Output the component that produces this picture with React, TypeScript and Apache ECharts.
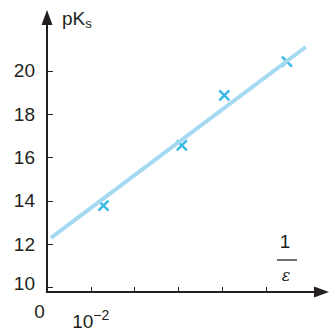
import React, { useEffect, useRef } from "react";
import * as echarts from "echarts";

const yTicks = [10, 12, 14, 16, 18, 20];
const xTicks = [0.01, 0.02, 0.03, 0.04, 0.05];
const xLabelTicks = [0.01];
const pointsX = [0.0129, 0.0308, 0.0405, 0.0548];
const pointsY = [13.78, 16.56, 18.87, 20.43];
const fitX = [0.0009, 0.0591];
const fitY = [12.3, 21.1];

const FONT = "Liberation Sans, Arial, sans-serif";
const INK = "#231f20";

export default function App() {
  const ref = useRef<HTMLDivElement>(null);
  useEffect(() => {
    const chart = echarts.init(ref.current!, null, { renderer: "svg" });
    chart.setOption({
      animation: false,
      backgroundColor: "#ffffff",
      grid: { left: 47, right: 7.5, top: 17.5, bottom: 34 },
      xAxis: {
        type: "value",
        min: 0,
        max: 0.0627,
        splitLine: { show: false },
        axisLine: {
          lineStyle: { color: INK, width: 2 },
          symbol: ["none", "triangle"],
          symbolSize: [11, 15],
        },
        axisTick: { inside: true, length: 5, lineStyle: { color: INK, width: 1 }, customValues: xTicks },
        axisLabel: {
          customValues: xLabelTicks,
          margin: 12,
          formatter: () => "{b|10}{s|−2}",
          rich: {
            b: { fontFamily: FONT, fontSize: 19, color: INK, padding: [8, 0, 0, 0] },
            s: { fontFamily: FONT, fontSize: 14, color: INK, padding: [0, 0, 6, 0] },
          },
        },
      },
      yAxis: {
        type: "value",
        min: 9.8,
        max: 22.46,
        splitLine: { show: false },
        axisLine: {
          lineStyle: { color: INK, width: 2 },
          symbol: ["none", "triangle"],
          symbolSize: [11, 15],
        },
        axisTick: { inside: true, length: 6, lineStyle: { color: INK, width: 1 }, customValues: yTicks },
        axisLabel: {
          customValues: yTicks,
          margin: 12,
          fontFamily: FONT,
          fontSize: 19,
          color: INK,
          formatter: (v: number) => (v === 10 ? "{u|10}" : "{n|" + v + "}"),
          rich: {
            n: { fontFamily: FONT, fontSize: 19, color: INK },
            u: { fontFamily: FONT, fontSize: 19, color: INK, padding: [0, 0, 8, 0] },
          },
        },
      },
      series: [
        {
          type: "line",
          data: fitX.map((x, i) => [x, fitY[i]]),
          showSymbol: false,
          lineStyle: { color: "#a3d9f1", width: 4 },
          silent: true,
        },
        {
          type: "scatter",
          data: pointsX.map((x, i) => [x, pointsY[i]]),
          symbol: "path://M0,0L10,10M10,0L0,10",
          symbolSize: 10,
          itemStyle: { color: "none", borderColor: "#0aa6e0", borderWidth: 2.5 },
        },
      ],
      graphic: [
        {
          type: "text",
          left: 62,
          top: 9,
          style: {
            text: "{m|pK}{s|s}",
            rich: {
              m: { fontFamily: FONT, fontSize: 19, fill: INK },
              s: { fontFamily: FONT, fontSize: 13, fill: INK, padding: [10, 0, 0, 0] },
            },
          },
        },
        {
          type: "text",
          x: 39.5,
          y: 311,
          style: { text: "0", fontFamily: FONT, fontSize: 19, fill: INK, align: "center", verticalAlign: "middle" },
        },
        {
          type: "text",
          x: 285,
          y: 241.5,
          style: { text: "1", fontFamily: FONT, fontSize: 19, fill: INK, align: "center", verticalAlign: "middle" },
        },
        {
          type: "line",
          shape: { x1: 277, y1: 260, x2: 297, y2: 260 },
          style: { stroke: INK, lineWidth: 1.3 },
        },
        {
          type: "text",
          x: 286,
          y: 275,
          style: {
            text: "ε",
            fontFamily: "DejaVu Serif, serif",
            fontStyle: "italic",
            fontSize: 16,
            fill: INK,
            align: "center",
            verticalAlign: "middle",
          },
        },
      ],
    });
    return () => chart.dispose();
  }, []);
  return (
    <div
      ref={ref}
      style={{ position: "fixed", left: 0, top: 0, width: 329, height: 331 }}
    />
  );
}
